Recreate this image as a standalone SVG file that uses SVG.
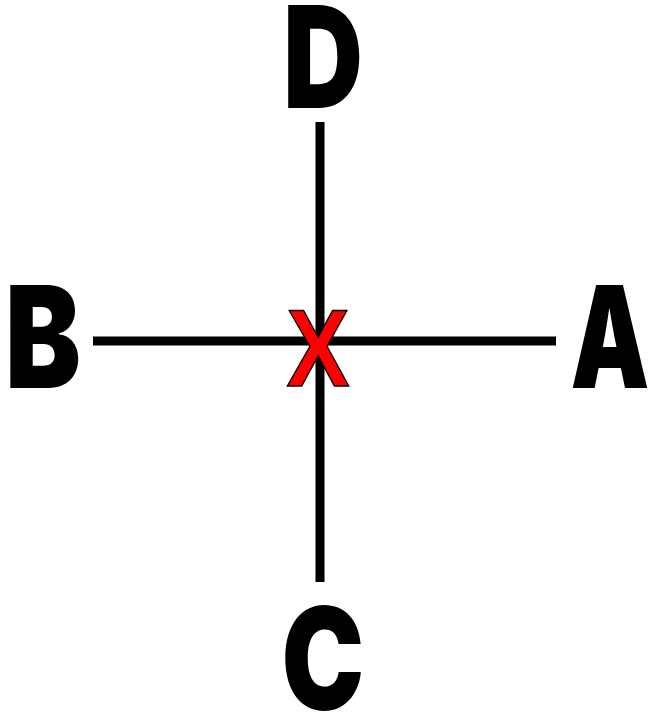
<svg xmlns="http://www.w3.org/2000/svg" width="653" height="718" viewBox="0 0 653 718">
<style>
.lbl{font-family:"Inter","Roboto","Liberation Sans",sans-serif;font-weight:900;font-size:142px;fill:#000;text-anchor:middle}
.ln{stroke:#000;stroke-width:9;fill:none}
.x{font-family:"Liberation Sans",Arial,sans-serif;font-weight:bold;font-size:110px;fill:#ff0000;stroke:#000;stroke-width:1.5;text-anchor:middle}
</style>
<rect width="653" height="718" fill="#fff"/>
<g id="connectors">
<line class="ln" x1="320" y1="122" x2="320" y2="582"/>
<line class="ln" x1="93" y1="341" x2="556" y2="341"/>
</g>
<g id="D"><text class="lbl" transform="translate(323,108) scale(0.78,1)">D</text></g>
<g id="B"><text class="lbl" transform="translate(43,388) scale(0.8,1)">B</text></g>
<g id="A"><text class="lbl" transform="translate(610,388) scale(0.7,1)">A</text></g>
<g id="C"><text class="lbl" transform="translate(323,710) scale(0.78,1)">C</text></g>
<g id="X"><text class="x" transform="translate(318,386) scale(0.86,1)">X</text></g>
</svg>
